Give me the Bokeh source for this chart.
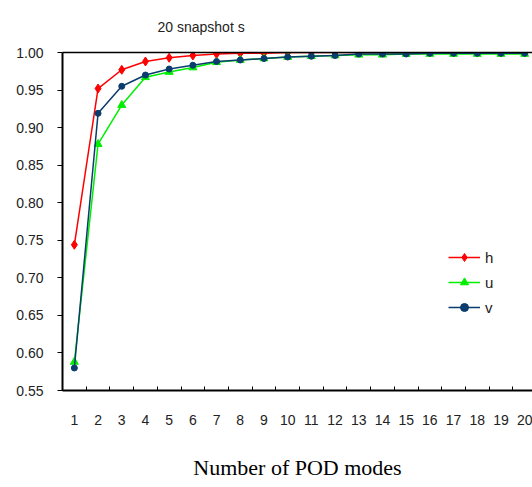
from bokeh.plotting import figure
from bokeh.models import (Range1d, FixedTicker, LinearAxis, Legend, LegendItem,
                          ColumnDataSource, CustomJSTickFormatter)
from bokeh.embed import file_html
from bokeh.resources import INLINE

modes = list(range(1, 21))
h = [0.744, 0.952, 0.977, 0.988, 0.993, 0.996, 0.998, 0.999, 0.999, 1.000,
     1.000, 1.000, 1.000, 1.000, 1.000, 1.000, 1.000, 1.000, 1.000, 1.000]
u = [0.588, 0.878, 0.930, 0.967, 0.974, 0.980, 0.987, 0.990, 0.992, 0.994,
     0.995, 0.996, 0.997, 0.997, 0.998, 0.998, 0.998, 0.998, 0.998, 0.998]
v = [0.580, 0.919, 0.955, 0.970, 0.978, 0.983, 0.988, 0.990, 0.992, 0.994,
     0.995, 0.996, 0.998, 0.998, 0.998, 0.999, 0.999, 0.999, 0.999, 0.999]
y_ticks = [0.55, 0.60, 0.65, 0.70, 0.75, 0.80, 0.85, 0.90, 0.95, 1.00]
title_text = "20 snapshot s"

FONT = "Liberation Sans"

p = figure(width=532, height=487, output_backend="svg", toolbar_location=None,
           x_range=Range1d(0.5, 20.33), y_range=Range1d(0.55, 1.0),
           min_border_left=62, min_border_right=0, min_border_top=52,
           min_border_bottom=97)
p.outline_line_color = None
p.grid.visible = False
p.background_fill_color = "white"

p.title.text = title_text
p.title.align = "left"
p.title.offset = 95
p.title.standoff = 32
p.title.vertical_align = "top"
p.title.text_font = FONT
p.title.text_font_size = "14px"
p.title.text_font_style = "normal"
p.title.text_color = "#222222"

# x axis
xa = p.xaxis[0]
xa.ticker = FixedTicker(ticks=modes, minor_ticks=[m + 0.5 for m in [0] + modes])
xa.major_tick_line_color = None
xa.minor_tick_in = 4
xa.minor_tick_out = 0
xa.minor_tick_line_color = "black"
xa.axis_line_color = "black"
xa.axis_line_width = 2
xa.major_label_standoff = 18
xa.major_label_text_font = FONT
xa.major_label_text_font_size = "14px"
xa.major_label_text_color = "#222222"
xa.axis_label = "Number of POD modes"
xa.axis_label_text_font = "Liberation Serif"
xa.axis_label_text_font_size = "22px"
xa.axis_label_text_font_style = "normal"
xa.axis_label_standoff = 27
xa.axis_label_text_color = "black"

# y axis
ya = p.yaxis[0]
ya.ticker = FixedTicker(ticks=y_ticks)
ya.formatter = CustomJSTickFormatter(code="return tick.toFixed(2);")
ya.major_tick_out = 5
ya.major_tick_in = 0
ya.minor_tick_line_color = None
ya.axis_line_color = "black"
ya.axis_line_width = 2
ya.major_label_standoff = 14
ya.major_label_text_font = FONT
ya.major_label_text_font_size = "14px"
ya.major_label_text_color = "#222222"

# top border line
top = LinearAxis(ticker=FixedTicker(ticks=[]), major_label_text_font_size="0px",
                 major_label_standoff=0, axis_label_standoff=0,
                 major_tick_line_color=None, minor_tick_line_color=None,
                 major_tick_out=0, major_tick_in=0,
                 axis_line_color="black", axis_line_width=1.5)
p.add_layout(top, "above")

src = ColumnDataSource(dict(x=modes, h=h, u=u, v=v))

lh = p.line("x", "h", source=src, color="#ff0000", line_width=1.5)
mh = p.scatter("x", "h", source=src, marker="diamond", size=9, color="#ff0000")
lu = p.line("x", "u", source=src, color="#00ee00", line_width=1.5)
mu = p.scatter("x", "u", source=src, marker="triangle", size=8, color="#00ee00")
lv = p.line("x", "v", source=src, color="#0a3d6e", line_width=1.5)
mv = p.scatter("x", "v", source=src, marker="circle", size=6, color="#0a3d6e")

legend = Legend(items=[LegendItem(label="h", renderers=[lh, mh]),
                       LegendItem(label="u", renderers=[lu, mu]),
                       LegendItem(label="v", renderers=[lv, mv])],
                location=(386, 73), orientation="vertical",
                glyph_width=32, glyph_height=20, spacing=5, padding=0,
                margin=0, label_standoff=5, border_line_color=None,
                background_fill_alpha=0, label_text_font=FONT,
                label_text_font_size="15px", label_text_color="#222222")
p.add_layout(legend, "center")

open("out.html", "w").write(file_html(p, INLINE))
